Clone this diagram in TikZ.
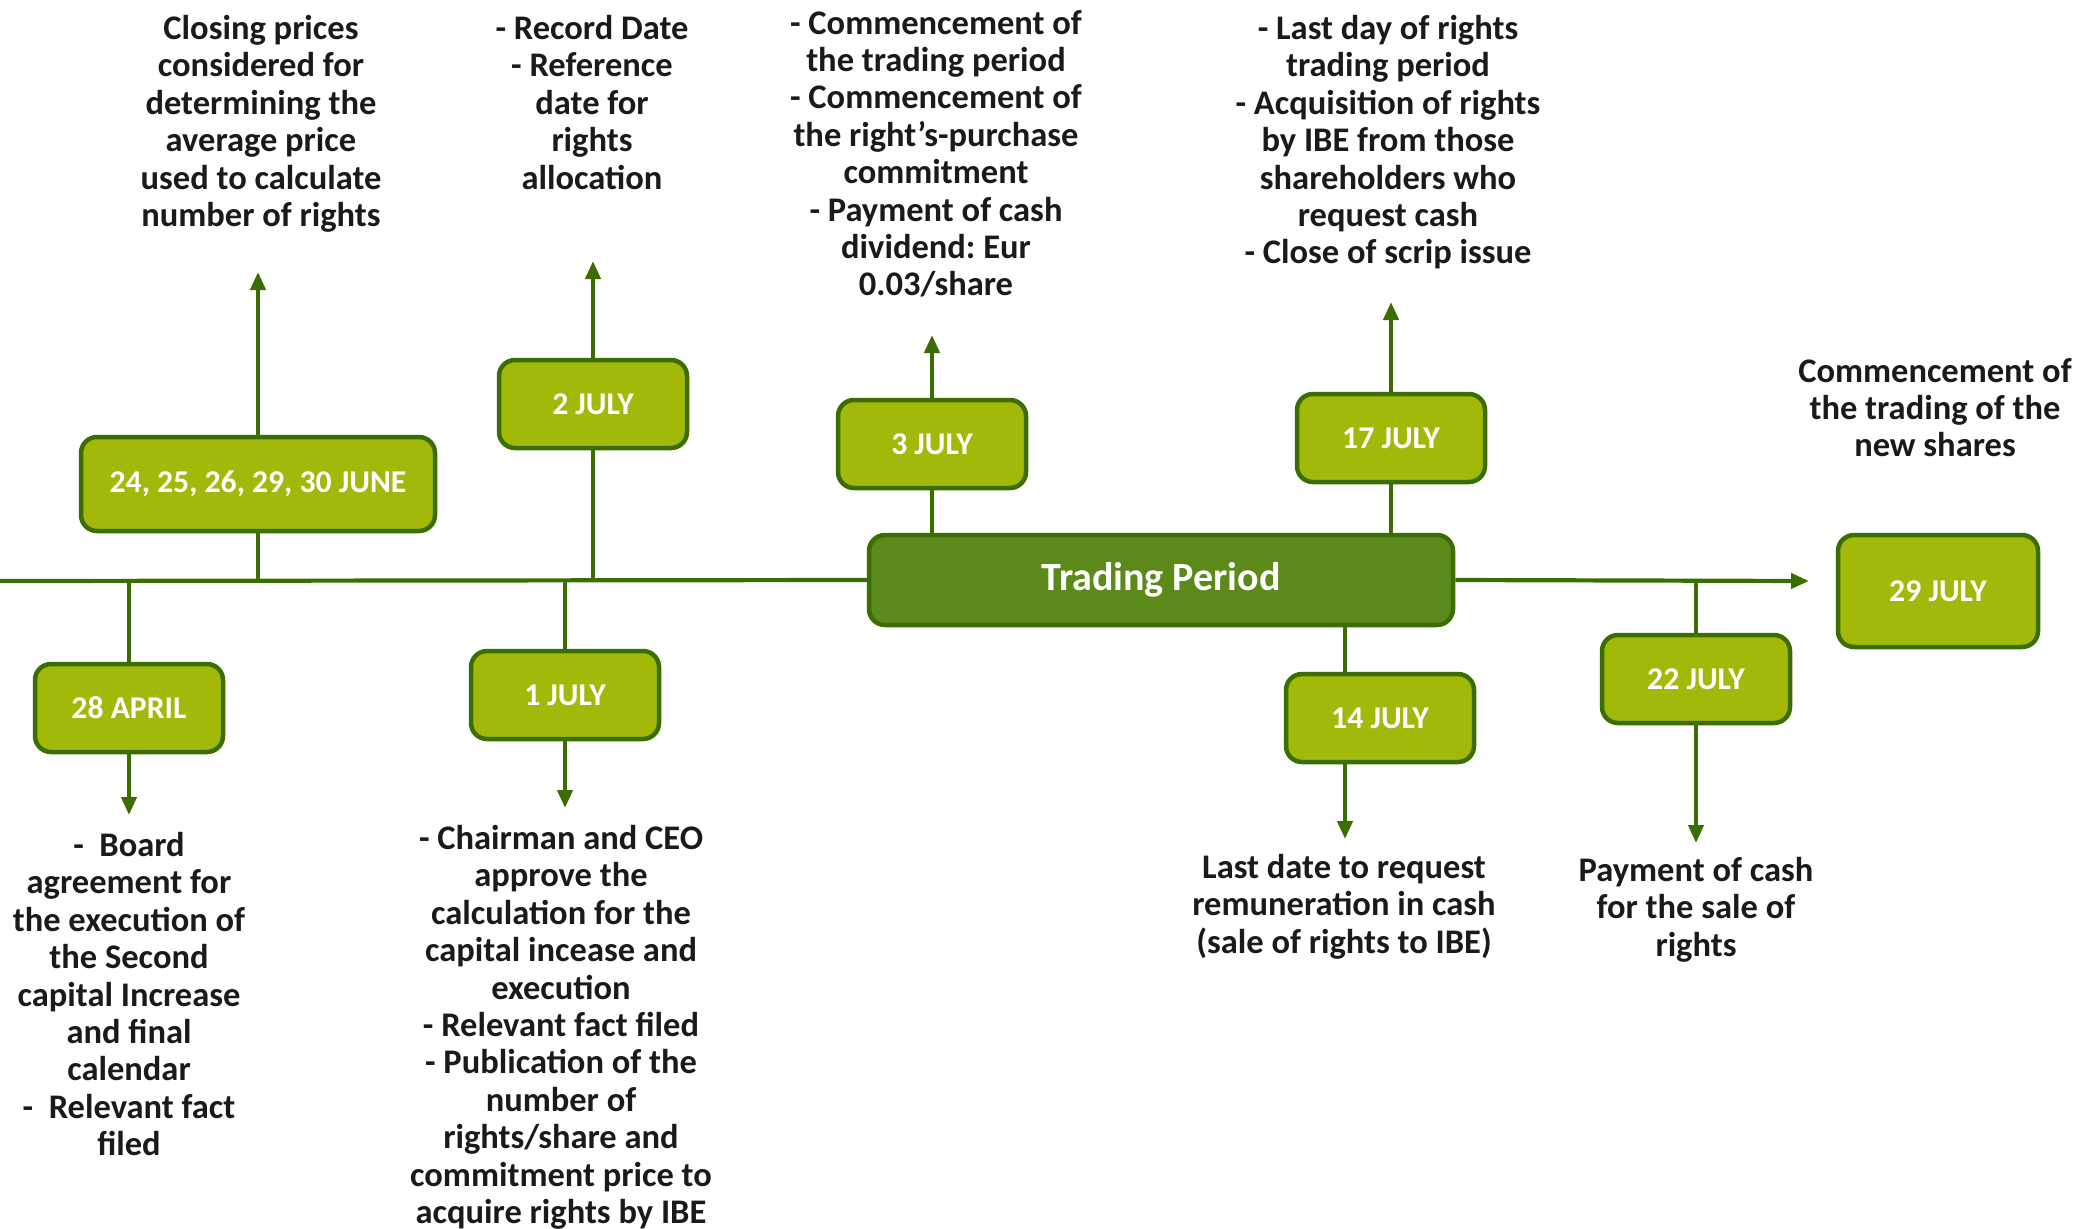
\documentclass[tikz,border=0pt]{standalone}
\usepackage{fontspec}
\setmainfont{Carlito}
\usetikzlibrary{arrows.meta}
\frenchspacing
\definecolor{leaf}{HTML}{A3B909}
\definecolor{bark}{HTML}{3B6E00}
\definecolor{moss}{HTML}{5C8A1A}
\definecolor{ink}{HTML}{1A1A1A}
\tikzset{
  datebox/.style={draw=bark, line width=4.5pt, fill=leaf, rounded corners=16pt,
    text=white, font=\bfseries\fontsize{31.7}{37}\selectfont,
    minimum width=188pt, minimum height=88pt, inner sep=0pt},
  periodbox/.style={datebox, fill=moss, font=\bfseries\fontsize{40}{46}\selectfont,
    minimum width=584pt, minimum height=90pt},
  note/.style={align=center, font=\bfseries\fontsize{34.5}{37.4}\selectfont,
    inner sep=0pt, anchor=north, text=ink},
  link/.style={draw=bark, line width=4.2pt},
  pointer/.style={link, -{Triangle[length=18pt,width=15pt]}},
}
\begin{document}
\begin{tikzpicture}[x=1pt,y=-1pt]
\useasboundingbox (0,0) rectangle (2078,1229);

% date boxes
\node[datebox, minimum width=354pt, minimum height=94pt] (june) at (258,484) {24, 25, 26, 29, 30 JUNE};
\node[datebox] (jul2)  at (593,404) {2 JULY};
\node[datebox] (jul3)  at (932,444) {3 JULY};
\node[periodbox] (trade) at (1161,580) {Trading Period};
\node[datebox] (jul17) at (1391,438) {17 JULY};
\node[datebox] (apr28) at (129,708) {28 APRIL};
\node[datebox] (jul1)  at (565,695) {1 JULY};
\node[datebox] (jul14) at (1380,718) {14 JULY};
\node[datebox] (jul22) at (1696,679) {22 JULY};
\node[datebox, minimum width=200pt, minimum height=112pt] (jul29) at (1938,591) {29 JULY};

% time axis
\coordinate (axisStart) at (0,581);
\coordinate (axisEnd) at (1809,581);
\draw[link] (axisStart) -- (trade.west);
\draw[pointer] (trade.east) -- (axisEnd);

% stems to the axis
\draw[link] (june.south) -- (june.south |- axisStart);
\draw[link] (jul2.south) -- (jul2.south |- axisStart);
\draw[link] (jul3.south) -- (jul3.south |- trade.north);
\draw[link] (jul17.south) -- (jul17.south |- trade.north);
\draw[link] (apr28.north) -- (apr28.north |- axisStart);
\draw[link] (jul1.north) -- (jul1.north |- axisStart);
\coordinate (jul14Top) at (1345,0);
\draw[link] (trade.south -| jul14Top) -- (jul14.north -| jul14Top);
\draw[link] (jul22.north) -- (jul22.north |- axisStart);

% arrows towards the notes
\coordinate (juneTip) at (258,272);
\coordinate (jul2Tip) at (593,261);
\coordinate (jul3Tip) at (932,335);
\coordinate (jul17Tip) at (1391,302);
\coordinate (apr28Tip) at (129,815);
\coordinate (jul1Tip) at (565,808);
\coordinate (jul14Tip) at (1345,839);
\coordinate (jul22Tip) at (1696,843);
\draw[pointer] (june.north) -- (juneTip);
\draw[pointer] (jul2.north) -- (jul2Tip);
\draw[pointer] (jul3.north) -- (jul3Tip);
\draw[pointer] (jul17.north) -- (jul17Tip);
\draw[pointer] (apr28.south) -- (apr28Tip);
\draw[pointer] (jul1.south) -- (jul1Tip);
\draw[pointer] (jul14.south -| jul14Top) -- (jul14Tip);
\draw[pointer] (jul22.south) -- (jul22Tip);

% notes
\node[note] (juneNote) at (261,15) {Closing prices\\considered for\\determining the\\average price\\used to calculate\\number of rights};
\node[note] (jul2Note) at (592,15) {- Record Date\\- Reference\\date for\\rights\\allocation};
\node[note] (jul3Note) at (936,10) {- Commencement of\\the trading period\\- Commencement of\\the right’s-purchase\\commitment\\- Payment of cash\\dividend: Eur\\0.03/share};
\node[note] (jul17Note) at (1388,15) {- Last day of rights\\trading period\\- Acquisition of rights\\by IBE from those\\shareholders who\\request cash\\- Close of scrip issue};
\node[note] (jul29Note) at (1935,358) {Commencement of\\the trading of the\\new shares};
\node[note] (apr28Note) at (129,832) {-\ \ Board\\agreement for\\the execution of\\the Second\\capital Increase\\and final\\calendar\\-\ \ Relevant fact\\filed};
\node[note] (jul1Note) at (561,825) {- Chairman and CEO\\approve the\\calculation for the\\capital incease and\\execution\\- Relevant fact filed\\- Publication of the\\number of\\rights/share and\\commitment price to\\acquire rights by IBE};
\node[note] (jul14Note) at (1344,854) {Last date to request\\remuneration in cash\\(sale of rights to IBE)};
\node[note] (jul22Note) at (1696,857) {Payment of cash\\for the sale of\\rights};
\end{tikzpicture}
\end{document}
